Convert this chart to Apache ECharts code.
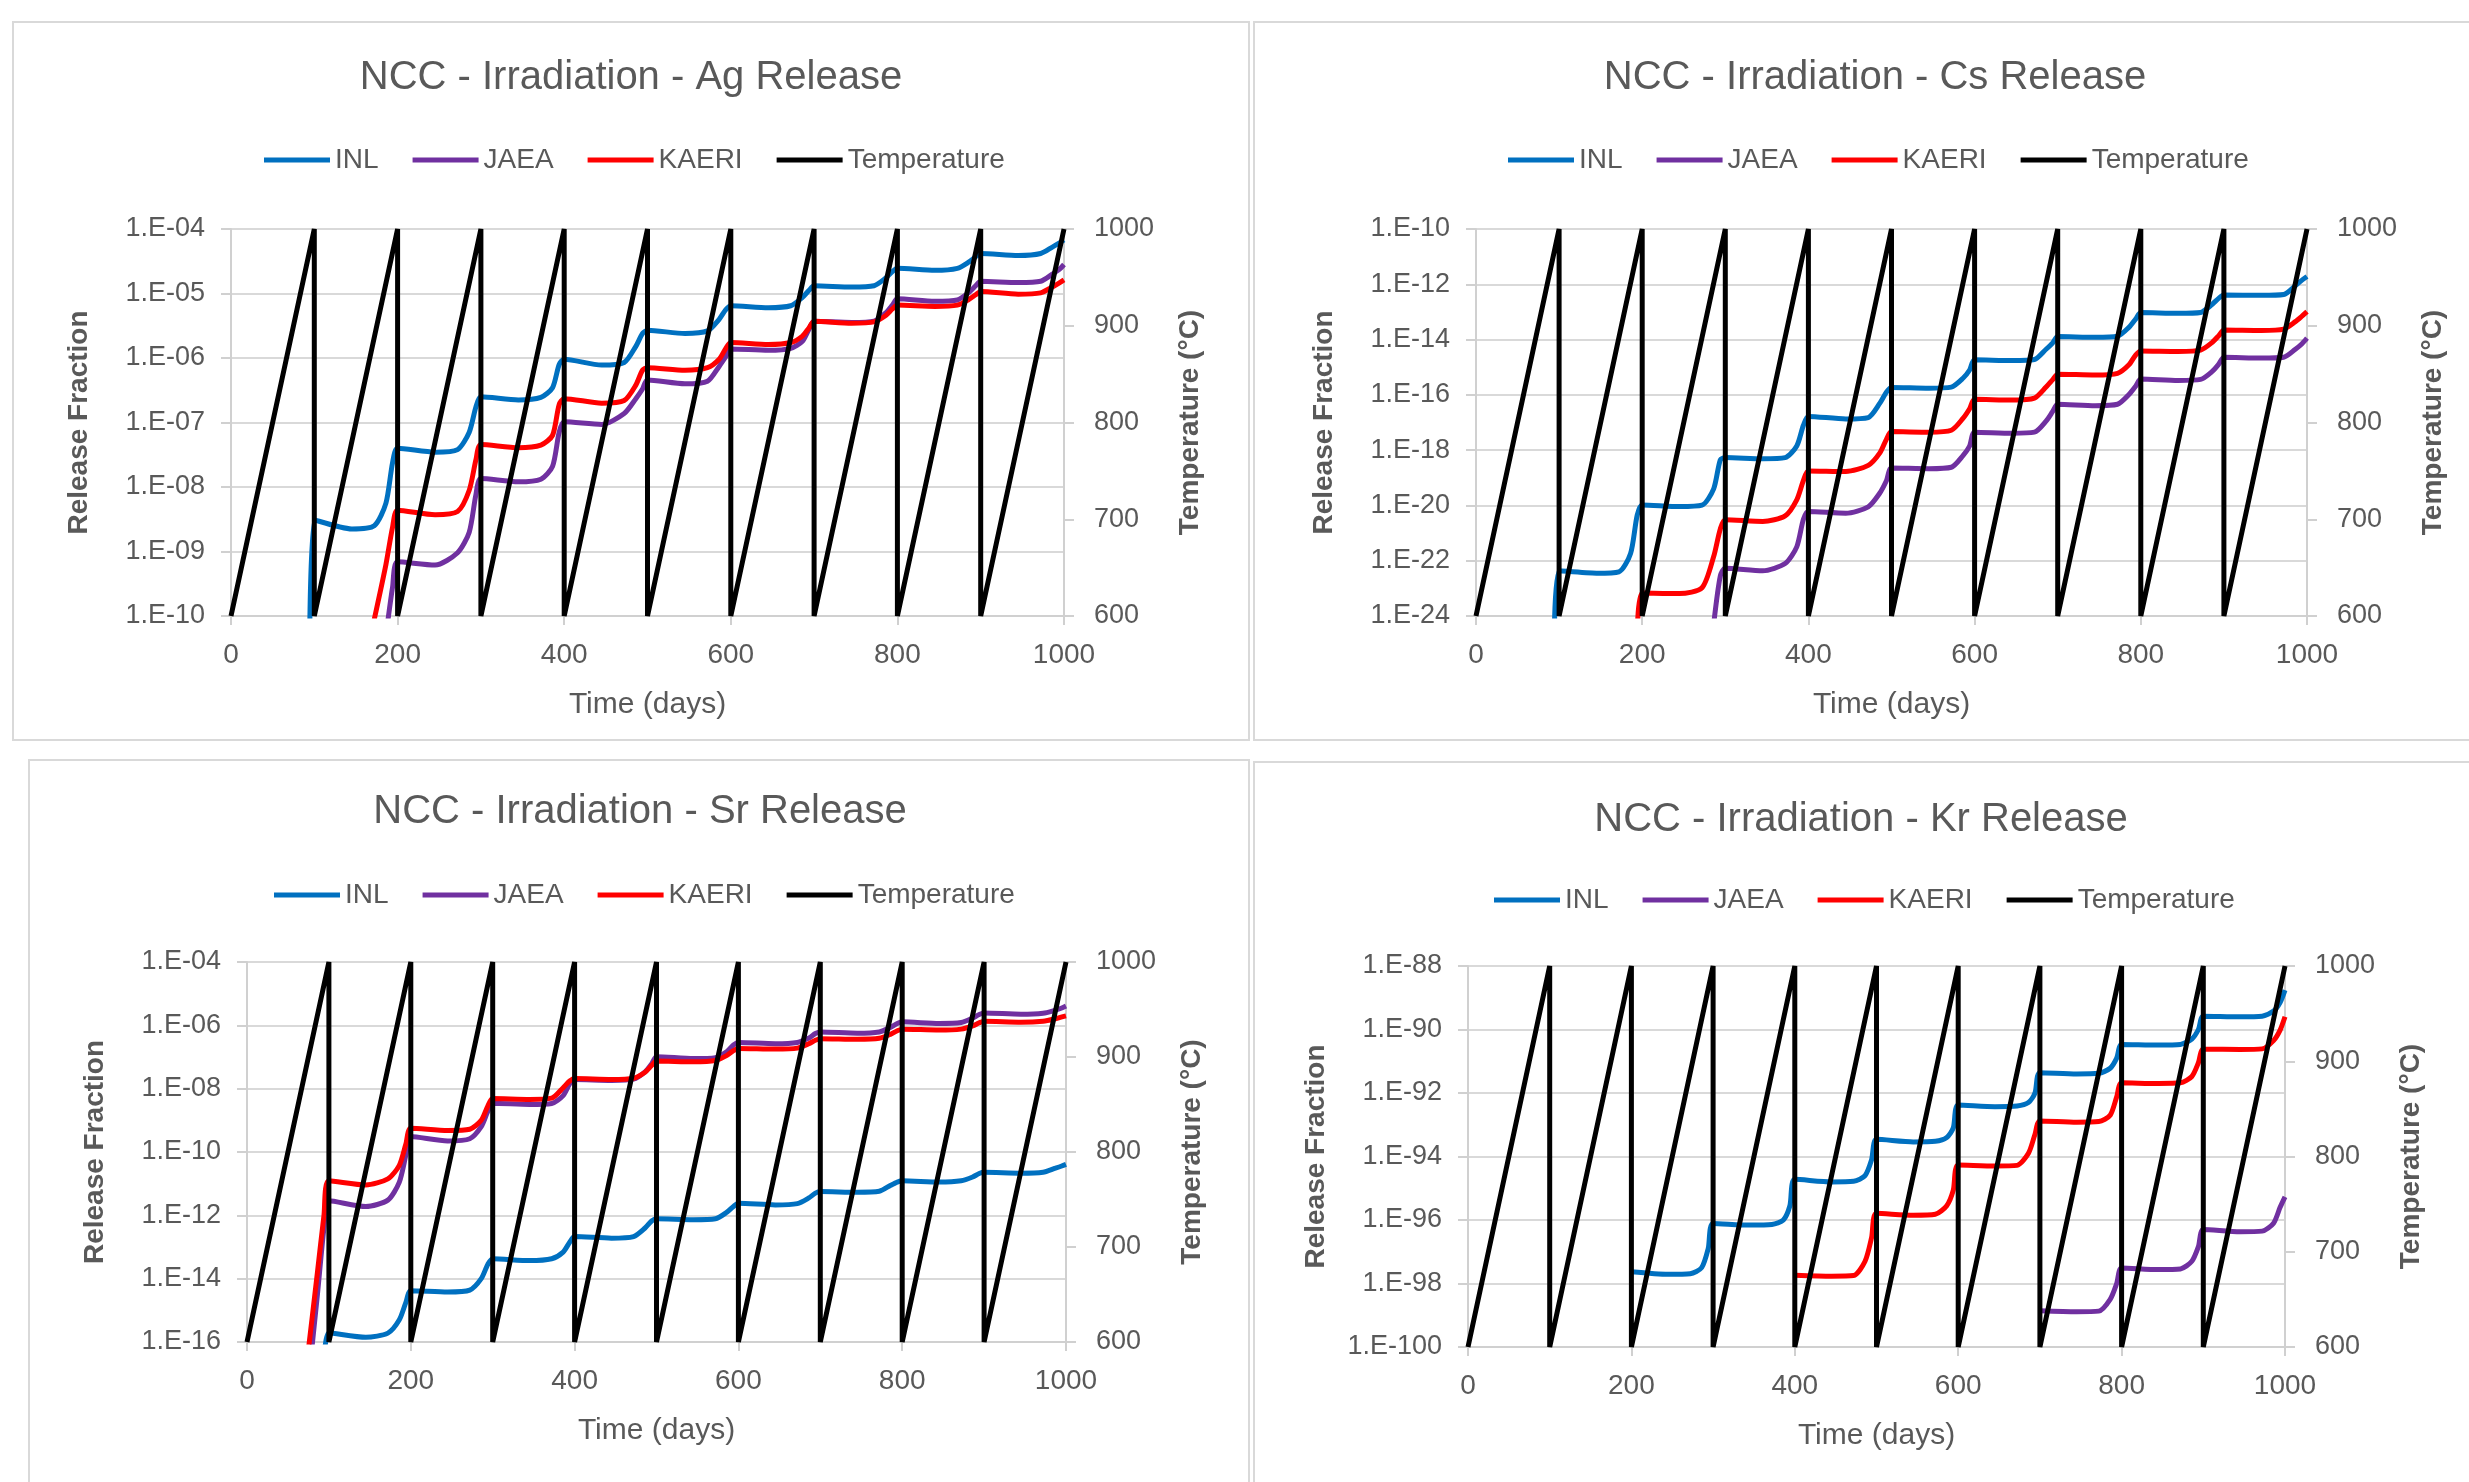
<!DOCTYPE html>
<html>
<head>
<meta charset="utf-8">
<title>NCC - Irradiation - Release</title>
<script src="https://cdn.jsdelivr.net/npm/echarts@6/dist/echarts.min.js"></script>
<style>
  html, body { margin: 0; padding: 0; background: #fff; }
  #chart { width: 2469px; height: 1482px; }
</style>
</head>
<body>
<div id="chart"></div>
<script>
// days at which the release curves were read (5 points per 100-day cycle)
const releaseDays = [
  0, 45, 72, 86, 94,
  100, 145, 172, 186, 194,
  200, 245, 272, 286, 294,
  300, 345, 372, 386, 394,
  400, 445, 472, 486, 494,
  500, 545, 572, 586, 594,
  600, 645, 672, 686, 694,
  700, 745, 772, 786, 794,
  800, 845, 872, 886, 894,
  900, 945, 972, 986, 994,
  1000
]

// release fraction as log10 (exponent), null = not plotted
const agInl = [
  null, null, null, null, -11.5,
  -8.51, -8.65, -8.60, -8.25, -7.62,
  -7.40, -7.46, -7.42, -7.15, -6.76,
  -6.60, -6.65, -6.61, -6.46, -6.10,
  -6.02, -6.11, -6.07, -5.82, -5.62,
  -5.57, -5.62, -5.58, -5.40, -5.25,
  -5.19, -5.22, -5.19, -5.06, -4.95,
  -4.88, -4.90, -4.88, -4.76, -4.66,
  -4.61, -4.64, -4.61, -4.51, -4.43,
  -4.38, -4.41, -4.38, -4.28, -4.22,
  -4.17
]
const agJaea = [
  null, null, null, null, null,
  null, null, null, -10.3, -9.55,
  -9.16, -9.21, -9.02, -8.70, -8.12,
  -7.87, -7.92, -7.88, -7.68, -7.15,
  -6.99, -7.03, -6.86, -6.63, -6.48,
  -6.34, -6.40, -6.36, -6.13, -5.98,
  -5.86, -5.88, -5.85, -5.74, -5.55,
  -5.43, -5.45, -5.43, -5.30, -5.18,
  -5.08, -5.12, -5.10, -4.98, -4.88,
  -4.81, -4.83, -4.81, -4.70, -4.63,
  -4.55
]
const agKaeri = [
  null, null, null, null, null,
  null, null, -10.05, -9.20, -8.62,
  -8.36, -8.43, -8.38, -8.05, -7.58,
  -7.34, -7.39, -7.35, -7.20, -6.72,
  -6.63, -6.70, -6.66, -6.42, -6.19,
  -6.15, -6.19, -6.15, -6.02, -5.85,
  -5.76, -5.79, -5.76, -5.66, -5.53,
  -5.43, -5.46, -5.44, -5.34, -5.24,
  -5.18, -5.20, -5.18, -5.09, -5.02,
  -4.97, -5.01, -4.99, -4.90, -4.84,
  -4.79
]

const csInl = [
  null, null, null, null, -25.5,
  -22.36, -22.45, -22.40, -21.74, -20.35,
  -19.98, -20.04, -19.99, -19.40, -18.35,
  -18.27, -18.31, -18.27, -17.85, -17.10,
  -16.78, -16.87, -16.82, -16.30, -15.90,
  -15.73, -15.76, -15.72, -15.40, -15.10,
  -14.73, -14.76, -14.72, -14.35, -14.12,
  -13.89, -13.92, -13.88, -13.55, -13.25,
  -13.02, -13.05, -13.02, -12.72, -12.50,
  -12.39, -12.40, -12.37, -12.05, -11.85,
  -11.72
]
const csJaea = [
  null, null, null, null, null,
  null, null, null, null, null,
  null, null, null, -24.3, -22.55,
  -22.27, -22.36, -22.10, -21.50, -20.50,
  -20.22, -20.28, -20.05, -19.55, -19.10,
  -18.65, -18.67, -18.62, -18.20, -17.85,
  -17.35, -17.39, -17.35, -16.95, -16.60,
  -16.34, -16.39, -16.34, -15.98, -15.68,
  -15.43, -15.48, -15.44, -15.15, -14.88,
  -14.64, -14.67, -14.64, -14.35, -14.15,
  -13.95
]
const csKaeri = [
  null, null, null, null, null,
  null, null, null, null, -25.0,
  -23.17, -23.19, -22.98, -21.85, -20.85,
  -20.52, -20.58, -20.38, -19.80, -19.10,
  -18.75, -18.77, -18.55, -18.10, -17.60,
  -17.33, -17.35, -17.28, -16.85, -16.50,
  -16.16, -16.19, -16.12, -15.72, -15.45,
  -15.25, -15.28, -15.22, -14.90, -14.55,
  -14.41, -14.43, -14.38, -14.10, -13.85,
  -13.65, -13.67, -13.62, -13.35, -13.15,
  -12.99
]

const srInl = [
  null, null, null, null, -17.0,
  -15.71, -15.85, -15.72, -15.30, -14.75,
  -14.38, -14.42, -14.36, -14.00, -13.55,
  -13.37, -13.43, -13.37, -13.16, -12.85,
  -12.67, -12.72, -12.67, -12.40, -12.18,
  -12.11, -12.14, -12.11, -11.90, -11.72,
  -11.62, -11.67, -11.63, -11.45, -11.30,
  -11.25, -11.27, -11.24, -11.05, -10.95,
  -10.91, -10.95, -10.91, -10.79, -10.68,
  -10.64, -10.67, -10.64, -10.52, -10.45,
  -10.39
]
const srJaea = [
  null, null, -18.0, -14.5, -12.4,
  -11.54, -11.72, -11.52, -10.95, -10.10,
  -9.51, -9.65, -9.58, -9.20, -8.72,
  -8.46, -8.50, -8.47, -8.22, -7.85,
  -7.71, -7.74, -7.70, -7.47, -7.22,
  -6.99, -7.05, -7.02, -6.83, -6.62,
  -6.54, -6.58, -6.54, -6.40, -6.26,
  -6.21, -6.25, -6.21, -6.06, -5.94,
  -5.89, -5.94, -5.91, -5.77, -5.66,
  -5.61, -5.65, -5.62, -5.53, -5.46,
  -5.39
]
const srKaeri = [
  null, null, -16.9, -13.8, -12.0,
  -10.91, -11.04, -10.85, -10.42, -9.75,
  -9.25, -9.32, -9.28, -9.00, -8.55,
  -8.31, -8.34, -8.30, -7.97, -7.76,
  -7.68, -7.71, -7.67, -7.48, -7.27,
  -7.13, -7.15, -7.11, -6.95, -6.80,
  -6.73, -6.75, -6.72, -6.58, -6.47,
  -6.42, -6.44, -6.41, -6.28, -6.17,
  -6.12, -6.15, -6.12, -6.02, -5.92,
  -5.87, -5.90, -5.87, -5.80, -5.74,
  -5.70
]

const krInl = [
  null, null, null, null, null,
  null, null, null, null, null,
  -97.63, -97.71, -97.69, -97.50, -96.90,
  -96.11, -96.16, -96.14, -96.00, -95.55,
  -94.72, -94.80, -94.78, -94.60, -94.10,
  -93.46, -93.54, -93.52, -93.40, -93.10,
  -92.38, -92.43, -92.41, -92.30, -92.00,
  -91.36, -91.40, -91.38, -91.22, -90.90,
  -90.47, -90.49, -90.47, -90.30, -90.00,
  -89.58, -89.60, -89.58, -89.42, -89.15,
  -88.76
]
const krJaea = [
  null, null, null, null, null,
  null, null, null, null, null,
  null, null, null, null, null,
  null, null, null, null, null,
  null, null, null, null, null,
  null, null, null, null, null,
  null, null, null, null, null,
  -98.86, -98.89, -98.87, -98.50, -98.00,
  -97.51, -97.56, -97.54, -97.30, -96.84,
  -96.30, -96.37, -96.35, -96.10, -95.60,
  -95.27
]
const krKaeri = [
  null, null, null, null, null,
  null, null, null, null, null,
  null, null, null, null, null,
  null, null, null, null, null,
  -97.74, -97.77, -97.75, -97.30, -96.55,
  -95.79, -95.85, -95.82, -95.55, -95.06,
  -94.27, -94.30, -94.28, -93.90, -93.30,
  -92.88, -92.92, -92.90, -92.70, -92.12,
  -91.68, -91.70, -91.68, -91.48, -91.05,
  -90.62, -90.63, -90.61, -90.35, -90.02,
  -89.60
]

// irradiation temperature cycle (same in every panel)
const tempDays = [0, 100, 100, 200, 200, 300, 300, 400, 400, 500, 500, 600, 600, 700, 700, 800, 800, 900, 900, 1000]
const tempValues = [600, 1000, 600, 1000, 600, 1000, 600, 1000, 600, 1000, 600, 1000, 600, 1000, 600, 1000, 600, 1000, 600, 1000]

const seriesNames = ['INL', 'JAEA', 'KAERI', 'Temperature']
const seriesColors = ['#0070C0', '#7030A0', '#FF0000', '#000000']

// y range / tick step are exponents of the release fraction
const panels = [
  { title: 'NCC - Irradiation - Ag Release', data: [agInl, agJaea, agKaeri], yMin: -10, yMax: -4, yStep: 1,
    box: [13, 22, 1236, 718], grid: [231, 229, 833, 387], titleX: 631, titleY: 80, legendX: 636, legendY: 161 },
  { title: 'NCC - Irradiation - Cs Release', data: [csInl, csJaea, csKaeri], yMin: -24, yMax: -10, yStep: 2,
    box: [1254, 22, 1230, 718], grid: [1476, 229, 831, 387], titleX: 1875, titleY: 80, legendX: 1880, legendY: 161 },
  { title: 'NCC - Irradiation - Sr Release', data: [srInl, srJaea, srKaeri], yMin: -16, yMax: -4, yStep: 2,
    box: [29, 760, 1220, 730], grid: [247, 962, 819, 380], titleX: 640, titleY: 814, legendX: 646, legendY: 896 },
  { title: 'NCC - Irradiation - Kr Release', data: [krInl, krJaea, krKaeri], yMin: -100, yMax: -88, yStep: 2,
    box: [1254, 762, 1230, 730], grid: [1468, 966, 817, 381], titleX: 1861, titleY: 822, legendX: 1866, legendY: 901 }
]

const textColor = '#595959'
const gridColor = '#d9d9d9'
const fontFamily = "'Liberation Sans', Arial, sans-serif"

function sciLabel(e) {
  e = Math.round(e)
  return '1.E' + (e < 0 ? '-' : '+') + String(Math.abs(e)).padStart(2, '0')
}

function toPoints(logs) {
  return releaseDays.map((d, i) => [d, logs[i] == null ? '-' : logs[i]])
}

const option = {
  animation: false,
  backgroundColor: '#fff',
  textStyle: { fontFamily: fontFamily },
  title: [],
  legend: [],
  grid: [],
  xAxis: [],
  yAxis: [],
  series: [],
  graphic: []
}

panels.forEach((p, k) => {
  option.graphic.push({
    type: 'rect', silent: true, z: -10,
    shape: { x: p.box[0], y: p.box[1], width: p.box[2], height: p.box[3] },
    style: { fill: 'none', stroke: gridColor, lineWidth: 2 }
  })
  option.title.push({
    text: p.title,
    left: p.titleX,
    top: p.titleY - 22,
    textAlign: 'center',
    padding: 0,
    textStyle: { fontSize: 40, fontWeight: 'normal', color: textColor, fontFamily: fontFamily }
  })
  option.legend.push({
    data: seriesNames,
    left: p.legendX - 372,
    top: p.legendY - 15,
    padding: 0,
    icon: 'rect',
    itemWidth: 66,
    itemHeight: 5,
    itemGap: 34,
    textStyle: { fontSize: 28, color: textColor, fontFamily: fontFamily }
  })
  option.grid.push({
    left: p.grid[0], top: p.grid[1], width: p.grid[2], height: p.grid[3],
    containLabel: false, outerBoundsMode: 'none'
  })
  option.xAxis.push({
    gridIndex: k,
    type: 'value',
    min: 0,
    max: 1000,
    interval: 200,
    name: 'Time (days)',
    nameLocation: 'middle',
    nameGap: 74,
    nameTextStyle: { fontSize: 30, color: textColor, fontFamily: fontFamily },
    axisLine: { show: true, lineStyle: { color: '#d0d0d0', width: 2 } },
    axisTick: { show: true, length: 9, lineStyle: { color: '#d0d0d0', width: 2 } },
    axisLabel: { formatter: v => String(v), fontSize: 28, color: textColor, margin: 25, fontFamily: fontFamily },
    splitLine: { show: false }
  })
  option.yAxis.push({
    gridIndex: k,
    type: 'value',
    min: p.yMin,
    max: p.yMax,
    interval: p.yStep,
    position: 'left',
    name: 'Release Fraction',
    nameLocation: 'middle',
    nameRotate: 90,
    nameGap: 138,
    nameTextStyle: { fontSize: 28, fontWeight: 'bold', color: textColor, fontFamily: fontFamily },
    axisLine: { show: true, lineStyle: { color: '#d0d0d0', width: 2 } },
    axisTick: { show: true, length: 10, lineStyle: { color: '#d0d0d0', width: 2 } },
    axisLabel: { formatter: sciLabel, fontSize: 27, color: textColor, margin: 26, fontFamily: fontFamily },
    splitLine: { show: true, lineStyle: { color: gridColor, width: 2 } }
  })
  option.yAxis.push({
    gridIndex: k,
    type: 'value',
    min: 600,
    max: 1000,
    interval: 100,
    position: 'right',
    name: 'Temperature (°C)',
    nameLocation: 'middle',
    nameRotate: 90,
    nameGap: 112,
    nameTextStyle: { fontSize: 28, fontWeight: 'bold', color: textColor, fontFamily: fontFamily },
    axisLine: { show: true, lineStyle: { color: '#d0d0d0', width: 2 } },
    axisTick: { show: true, length: 10, lineStyle: { color: '#d0d0d0', width: 2 } },
    axisLabel: { formatter: v => String(v), fontSize: 27, color: textColor, margin: 30, fontFamily: fontFamily },
    splitLine: { show: false }
  })
  p.data.forEach((logs, i) => {
    option.series.push({
      name: seriesNames[i],
      type: 'line',
      xAxisIndex: k,
      yAxisIndex: 2 * k,
      data: toPoints(logs),
      symbol: 'none',
      smooth: 0.25,
      clip: true,
      lineStyle: { color: seriesColors[i], width: 5 },
      itemStyle: { color: seriesColors[i] }
    })
  })
  option.series.push({
    name: 'Temperature',
    type: 'line',
    xAxisIndex: k,
    yAxisIndex: 2 * k + 1,
    data: tempDays.map((d, i) => [d, tempValues[i]]),
    symbol: 'none',
    clip: true,
    lineStyle: { color: seriesColors[3], width: 5 },
    itemStyle: { color: seriesColors[3] }
  })
})

const chart = echarts.init(document.getElementById('chart'))
chart.setOption(option)
</script>
</body>
</html>
